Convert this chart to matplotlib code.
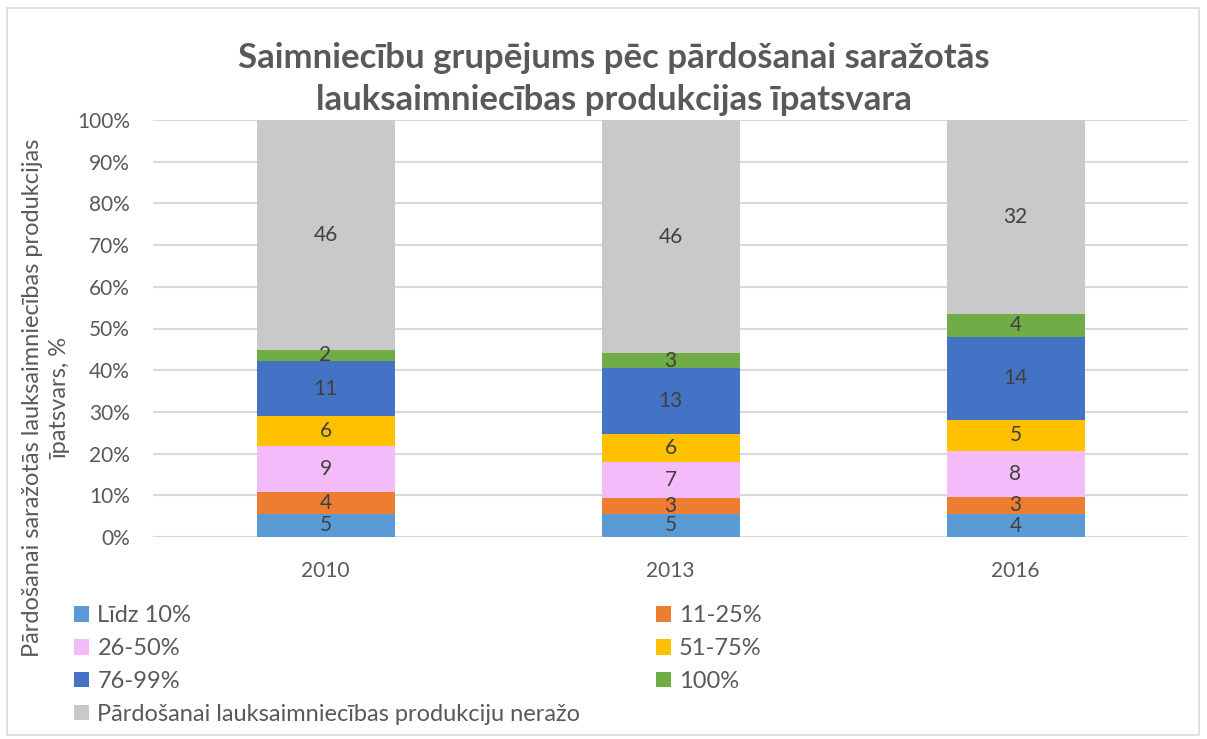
import matplotlib.pyplot as plt
import numpy as np
from matplotlib.patches import Rectangle

plt.rcParams['font.family'] = ['Lato', 'DejaVu Sans']

years = ['2010', '2013', '2016']
groups = ['Līdz 10%', '11-25%', '26-50%', '51-75%', '76-99%', '100%',
          'Pārdošanai lauksaimniecības produkciju neražo']
# number of farms (thousands)
lidz_10 = [4.6, 4.6, 3.8]
p11_25 = [4.4, 3.0, 2.9]
p26_50 = [9.1, 7.1, 7.5]
p51_75 = [5.9, 5.6, 5.2]
p76_99 = [11.1, 13.0, 13.7]
p100 = [2.1, 2.9, 3.8]
nerazo = [45.8, 46.0, 32.1]
colors = ['#5B9BD5', '#ED7D31', '#F4BBFA', '#FFC000', '#4472C4', '#70AD47', '#C9C9C9']

series = np.array([lidz_10, p11_25, p26_50, p51_75, p76_99, p100, nerazo])
shares = series / series.sum(axis=0) * 100

fig = plt.figure(figsize=(12.07, 7.39), dpi=100)
fig.patches.append(Rectangle((7 / 1207, 0.005), 1192 / 1207, 1 - 8 / 739 - 0.005,
                             transform=fig.transFigure, fill=False,
                             edgecolor='#D9D9D9', lw=1.2))
ax = fig.add_axes([153 / 1207, 202 / 739, 1035 / 1207, 417 / 739])

x = np.arange(len(years))
bottom = np.zeros(len(years))
bars = []
for i in range(len(groups)):
    b = ax.bar(x, shares[i], 0.4, bottom=bottom, color=colors[i], label=groups[i], zorder=3)
    bars.append(b)
    for j in range(len(years)):
        ax.text(x[j], bottom[j] + shares[i][j] / 2, '%d' % round(series[i][j]),
                ha='center', va='center', fontsize=15, color='#404040', zorder=4)
    bottom += shares[i]

ax.set_xlim(-0.5, 2.5)
ax.set_ylim(0, 100)
ax.set_yticks(np.arange(0, 101, 10))
ax.set_yticklabels(['%d%%' % v for v in range(0, 101, 10)])
ax.set_xticks(x)
ax.set_xticklabels(years)
ax.tick_params(length=0, labelsize=15, colors='#595959')
ax.tick_params(axis='x', pad=17)
ax.tick_params(axis='y', pad=16.5)
ax.grid(axis='y', color='#D9D9D9', lw=1.5, zorder=0)
for s in ax.spines.values():
    s.set_visible(False)

fig.text(614 / 1207, 1 - 58 / 739, 'Saimniecību grupējums pēc pārdošanai saražotās',
         ha='center', va='center', fontsize=25, fontweight='bold', color='#595959')
fig.text(614 / 1207, 1 - 100 / 739, 'lauksaimniecības produkcijas īpatsvara',
         ha='center', va='center', fontsize=25, fontweight='bold', color='#595959')
fig.text(46 / 1207, 1 - 398 / 739,
         'Pārdošanai saražotās lauksaimniecības produkcijas\nīpatsvars, %',
         rotation=90, ha='center', va='center', fontsize=17, color='#595959',
         multialignment='center', linespacing=1.4)

order = [0, 2, 4, 6, 1, 3, 5]
leg = fig.legend([bars[k] for k in order], [groups[k] for k in order], ncol=2,
                 loc='upper left', bbox_to_anchor=(53 / 1207, 1 - 584 / 739),
                 frameon=False, fontsize=17, handlelength=0.64, handleheight=0.64,
                 handletextpad=0.34, labelspacing=0.5, columnspacing=3.2,
                 labelcolor='#595959')

fig.savefig('out.png', dpi=100)
